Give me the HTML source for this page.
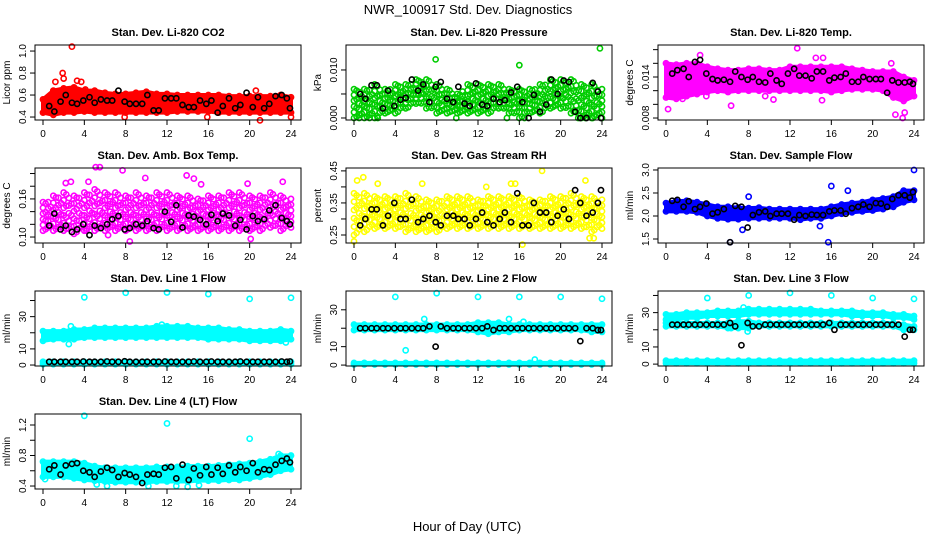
<!DOCTYPE html>
<html><head><meta charset="utf-8">
<style>
html,body{margin:0;padding:0;background:#fff;}
svg{display:block;font-family:"Liberation Sans",Arial,sans-serif;}
</style></head>
<body>
<svg id="chart" width="936" height="540" viewBox="0 0 936 540" xmlns="http://www.w3.org/2000/svg">
<text x="468" y="14" text-anchor="middle" font-size="13">NWR_100917  Std. Dev. Diagnostics</text>
<text x="467" y="531" text-anchor="middle" font-size="13">Hour of Day (UTC)</text>
</svg>
<script>
// shared hour categories
const hours=[0,1,2,3,4,5,6,7,8,9,10,11,12,13,14,15,16,17,18,19,20,21,22,23,24];
const blackHours=[0.6,1.1,1.7,2.2,2.8,3.3,3.9,4.5,5.0,5.6,6.2,6.7,7.3,7.9,8.4,9.0,9.6,10.1,10.7,11.2,11.8,12.4,12.9,13.5,14.1,14.6,15.2,15.8,16.3,16.9,17.4,18.0,18.6,19.1,19.7,20.3,20.8,21.4,21.9,22.5,23.1,23.6,23.9];
const xTicks=[0,4,8,12,16,20,24];

// CO2
const co2Lo=[0.44,0.42,0.44,0.44,0.45,0.44,0.44,0.44,0.44,0.44,0.44,0.44,0.44,0.45,0.45,0.45,0.45,0.44,0.44,0.44,0.44,0.44,0.44,0.44,0.44];
const co2Hi=[0.56,0.64,0.66,0.67,0.64,0.64,0.62,0.61,0.61,0.62,0.63,0.61,0.61,0.60,0.60,0.60,0.60,0.60,0.59,0.59,0.59,0.59,0.59,0.60,0.58];
const co2OutT=[1.2,1.9,2.0,2.8,3.3,3.7,4.1,7.9,15.9,20.6,21.0,24.0];
const co2OutV=[0.72,0.80,0.75,1.04,0.73,0.72,0.65,0.40,0.40,0.64,0.37,0.40];
const co2Black=[0.50,0.45,0.54,0.60,0.53,0.52,0.55,0.58,0.53,0.56,0.55,0.55,0.64,0.54,0.52,0.52,0.52,0.60,0.46,0.46,0.57,0.57,0.57,0.51,0.49,0.49,0.55,0.52,0.55,0.44,0.50,0.57,0.48,0.51,0.62,0.49,0.58,0.48,0.52,0.59,0.60,0.57,0.48];
const co2Ticks=[0.4,0.6,0.8,1.0];
const co2Labels=["0.4","0.6","0.8","1.0"];

// Pressure
const presLo=[0.000,0.000,0.000,0.001,0.001,0.002,0.003,0.002,0.001,0.001,0.001,0.001,0.001,0.001,0.002,0.001,0.000,0.001,0.001,0.002,0.002,0.001,0.000,0.000,0.000];
const presHi=[0.006,0.006,0.007,0.006,0.007,0.007,0.008,0.008,0.007,0.006,0.005,0.007,0.007,0.007,0.007,0.006,0.006,0.006,0.007,0.008,0.008,0.008,0.007,0.007,0.006];
const presOutT=[7.9,16.0,23.8,9.9,1.5,2.3,0.5,14.8,16.5,21.7,22.4,23.1];
const presOutV=[0.0122,0.0110,0.0145,0,0,0,0,0,0,0,0,0];
const presBlack=[0.005,0.004,0.0068,0.0068,0.002,0.0057,0.0025,0.0038,0.0042,0.0080,0.0057,0.0070,0.0033,0.0065,0.0075,0.0040,0.0033,0.0065,0.0030,0.0025,0.0072,0.0028,0.0025,0.0040,0.0033,0.0037,0.0053,0.0065,0.0033,0.0000,0.0048,0.0013,0.0028,0.0080,0.0050,0.0078,0.0075,0.0013,0.0000,0.0000,0.0073,0.0055,0.0000];
const presTicks=[0,0.005,0.010];
const presLabels=["0.000","","0.010"];

// Li-820 Temp
const tempLo=[0.0110,0.0108,0.0112,0.0115,0.0118,0.0120,0.0118,0.0120,0.0120,0.0120,0.0120,0.0120,0.0120,0.0120,0.0120,0.0120,0.0118,0.0120,0.0122,0.0122,0.0122,0.0120,0.0110,0.0105,0.0112];
const tempHi=[0.0160,0.0158,0.0160,0.0160,0.0155,0.0152,0.0150,0.0150,0.0152,0.0152,0.0150,0.0150,0.0155,0.0155,0.0155,0.0155,0.0155,0.0155,0.0152,0.0150,0.0148,0.0148,0.0148,0.0140,0.0135];
const tempOutT=[0.2,6.3,3.3,12.7,14.5,15.2,21.8,22.2,22.9,23.1,9.6,10.4,1.6,3.9,15.1];
const tempOutV=[0.0093,0.0098,0.0172,0.0182,0.0168,0.0168,0.0160,0.0085,0.0080,0.0088,0.0112,0.0107,0.0108,0.0112,0.0106];
const tempBlack=[0.0145,0.0150,0.0152,0.0140,0.0162,0.0165,0.0145,0.0137,0.0135,0.0136,0.0133,0.0148,0.0140,0.0136,0.0140,0.0133,0.0132,0.0145,0.0135,0.0130,0.0145,0.0152,0.0142,0.0142,0.0138,0.0148,0.0148,0.0135,0.0139,0.0140,0.0145,0.0133,0.0133,0.0140,0.0137,0.0137,0.0137,0.0117,0.0135,0.0132,0.0132,0.0133,0.0130];
const tempTicks=[0.008,0.010,0.012,0.014,0.016,0.018];
const tempLabels=["0.008","","","0.014","",""];

// Amb box temp
const ambLo=[0.11,0.11,0.11,0.105,0.11,0.11,0.11,0.11,0.11,0.11,0.11,0.11,0.11,0.11,0.11,0.11,0.11,0.11,0.11,0.11,0.11,0.11,0.115,0.11,0.115];
const ambHi=[0.155,0.165,0.17,0.165,0.17,0.175,0.17,0.17,0.165,0.17,0.165,0.17,0.17,0.165,0.165,0.16,0.165,0.165,0.17,0.17,0.165,0.165,0.17,0.165,0.16];
const ambOutT=[2.2,2.7,4.4,5.1,5.5,7.7,9.9,13.9,14.6,15.3,19.8,23.2,6.3,8.4,20.1,4.2];
const ambOutV=[0.185,0.187,0.187,0.21,0.21,0.205,0.193,0.197,0.192,0.183,0.184,0.187,0.103,0.093,0.097,0.110];
const ambBlack=[0.118,0.137,0.112,0.118,0.108,0.112,0.120,0.103,0.118,0.114,0.120,0.128,0.133,0.112,0.114,0.120,0.118,0.125,0.114,0.112,0.140,0.124,0.150,0.115,0.134,0.132,0.127,0.120,0.135,0.125,0.137,0.134,0.118,0.127,0.112,0.133,0.125,0.128,0.142,0.150,0.130,0.125,0.120];
const ambTicks=[0.10,0.12,0.14,0.16,0.18,0.20];
const ambLabels=["0.10","","","0.16","",""];

// Gas stream RH
const rhLo=[0.25,0.26,0.27,0.27,0.27,0.26,0.26,0.26,0.26,0.27,0.27,0.27,0.27,0.27,0.27,0.27,0.27,0.27,0.27,0.27,0.27,0.27,0.27,0.26,0.27];
const rhHi=[0.38,0.38,0.37,0.37,0.37,0.38,0.37,0.36,0.36,0.37,0.37,0.37,0.36,0.37,0.37,0.37,0.37,0.36,0.36,0.37,0.37,0.38,0.37,0.37,0.36];
const rhOutT=[0.3,0.9,2.3,6.6,12.8,15.2,15.6,18.2,22.4,0.0,16.3,22.8,23.2];
const rhOutV=[0.42,0.43,0.41,0.41,0.40,0.41,0.41,0.45,0.42,0.23,0.22,0.24,0.24];
const rhBlack=[0.28,0.30,0.33,0.33,0.28,0.31,0.35,0.30,0.30,0.36,0.29,0.30,0.31,0.29,0.28,0.31,0.31,0.30,0.30,0.28,0.30,0.32,0.29,0.28,0.30,0.32,0.29,0.38,0.28,0.28,0.35,0.32,0.32,0.29,0.31,0.33,0.30,0.39,0.35,0.31,0.32,0.35,0.39];
const rhTicks=[0.25,0.30,0.35,0.40,0.45];
const rhLabels=["0.25","","0.35","","0.45"];

// Sample flow
const sfLo=[2.10,2.10,2.10,2.08,2.00,1.95,1.93,1.93,1.95,1.95,1.95,1.95,1.95,1.92,1.95,1.95,2.00,2.05,2.08,2.10,2.12,2.15,2.20,2.30,2.35];
const sfHi=[2.28,2.32,2.33,2.30,2.25,2.20,2.20,2.18,2.17,2.18,2.15,2.15,2.15,2.15,2.15,2.15,2.20,2.25,2.28,2.30,2.35,2.38,2.42,2.55,2.55];
const sfOutT=[6.2,15.7,24.0,16.0,17.6,8.0,7.4,14.9];
const sfOutV=[1.43,1.43,3.0,2.65,2.55,2.42,1.70,1.78];
const sfBlack=[2.33,2.35,2.20,2.32,2.15,2.20,2.27,2.05,2.08,2.15,1.43,2.22,2.20,1.75,2.02,2.08,2.10,2.00,2.05,2.05,2.05,1.92,2.02,2.00,2.03,2.02,2.02,2.10,2.12,2.12,2.05,2.17,2.20,2.25,2.20,2.28,2.27,2.20,2.37,2.45,2.45,2.40,2.52];
const sfTicks=[1.5,2.0,2.5,3.0];
const sfLabels=["1.5","2.0","2.5","3.0"];

// Line 1 flow
const l1Lo=[15,16,16,16,17,17,17,17,17,17,17,17,17,17,17,17,16,16,16,16,15,15,15,15,16];
const l1Hi=[21,21,21,22,22,23,23,23,23,23,23,24,24,24,24,23,23,23,22,22,21,21,21,22,21];
const l1Lo2=[0.5,0.5,0.5,0.5,0.5,0.5,0.5,0.5,0.5,0.5,0.5,0.5,0.5,0.5,0.5,0.5,0.5,0.5,0.5,0.5,0.5,0.5,0.5,0.5,0.5];
const l1Hi2=[2,2,2,2,2,2,2,2,2,2,2,2,2,2,2,2,2,2,2,2,2,2,2,2,2];
const l1OutT=[4,8,12,16,20,24,2.5,2.7,11.5,23.5];
const l1OutV=[42,44.8,45,44,41,41.7,13,24,25,14];
const l1Black=[2,2,2,2,2,2,2.2,2,2,2,2.2,2,2,2.3,2,2,2,2,2,2,2.2,2,2,2,2,2.2,2,2,2.2,2,2,2,2,2.2,2,2,2,2,2,2,2.2,2,2.2];
const l1Ticks=[0,10,20,30,40];
const l1Labels=["0","10","","30",""];

// Line 2 flow
const l2Lo=[19,19,19,19,19,19,19,19,19,19,19,19,18,17,18,18,19,19,19,19,19,19,19,18,18];
const l2Hi=[22,22,22,22,22,22,22,22,22,22,22,22,23,23,23,22,22,22,22,22,22,22,22,22,22];
const l2Lo2=[0.3,0.3,0.3,0.3,0.3,0.3,0.3,0.3,0.3,0.3,0.3,0.3,0.3,0.3,0.3,0.3,0.3,0.3,0.3,0.3,0.3,0.3,0.3,0.3,0.3];
const l2Hi2=[1.2,1.2,1.2,1.2,1.2,1.2,1.2,1.2,1.2,1.2,1.2,1.2,1.2,1.2,1.2,1.2,1.2,1.2,1.2,1.2,1.2,1.2,1.2,1.2,1.2];
const l2OutT=[4,8,12,16,20,24,6.8,15,5,17.5,16.4];
const l2OutV=[37,39,37,37,37,36,25,25,8,3,23.5];
const l2Black=[20,20,20,20,20,20,20,20,20,20,20,20,21,10,21,20,20,20,20,20,20,20,21,19,20,20,20,20,20,20,20,20,20,20,20,20,20,20,13,20,20,19,19];
const l2Ticks=[0,10,20,30];
const l2Labels=["0","10","","30"];

// Line 3 flow
const l3Lo=[26,26,27,27,28,28,28,28,29,29,29,29,29,29,29,29,29,29,28,28,28,28,27,27,26];
const l3Hi=[29,29,30,30,30,31,31,31,32,32,32,32,32,32,32,31,31,31,31,30,30,30,29,29,28];
const l3MidLo=[22,22,22,22,22,22,21,21,21,22,22,22,22,22,22,22,22,22,22,22,22,22,22,20,20];
const l3MidHi=[24,24,24,24,24,24,24,25,25,24,24,24,24,24,24,24,24,24,24,24,24,24,24,23,22];
const l3Lo2=[0.5,0.5,0.5,0.5,0.5,0.5,0.5,0.5,0.5,0.5,0.5,0.5,0.5,0.5,0.5,0.5,0.5,0.5,0.5,0.5,0.5,0.5,0.5,0.5,0.5];
const l3Hi2=[2,2,2,2,2,2,2,2,2,2,2,2,2,2,2,2,2,2,2,2,2,2,2,2,2];
const l3OutT=[4,8,12,16,20,24,7.5,6.3,7.9];
const l3OutV=[38.5,40,41.5,40,38.5,38,33,21,19];
const l3Black=[23,23,23,23,23,23,23,23,23,23,24,22,11,24,22,22,23,23,23,23,23,23,23,23,23,23,23,24,20,23,23,23,23,23,23,23,23,23,23,23,16,20,20];
const l3Ticks=[0,10,20,30,40];
const l3Labels=["0","10","","30",""];

// Line 4 flow
const l4Lo=[0.52,0.52,0.52,0.50,0.48,0.47,0.46,0.45,0.45,0.45,0.45,0.46,0.46,0.46,0.46,0.47,0.47,0.47,0.48,0.48,0.50,0.52,0.55,0.60,0.62];
const l4Hi=[0.72,0.72,0.72,0.72,0.70,0.66,0.64,0.64,0.64,0.64,0.64,0.65,0.65,0.65,0.66,0.66,0.66,0.67,0.68,0.69,0.70,0.72,0.75,0.80,0.80];
const l4OutT=[4,12,20,5.2,6.2,10.2,12.9,14,15.1,0.2,22.8];
const l4OutV=[1.32,1.22,1.02,0.42,0.40,0.40,0.40,0.39,0.41,0.49,0.82];
const l4Black=[0.62,0.67,0.55,0.67,0.69,0.70,0.60,0.58,0.52,0.59,0.64,0.61,0.52,0.57,0.55,0.52,0.44,0.55,0.56,0.55,0.64,0.65,0.50,0.68,0.48,0.63,0.54,0.65,0.55,0.64,0.56,0.67,0.58,0.65,0.60,0.70,0.58,0.62,0.61,0.68,0.73,0.76,0.71];
const l4Ticks=[0.4,0.6,0.8,1.0,1.2];
const l4Labels=["0.4","","0.8","","1.2"];

const NS="http://www.w3.org/2000/svg";
const svg=document.getElementById('chart');
function mk(tag,attrs,parent){const e=document.createElementNS(NS,tag);for(const k in attrs)e.setAttribute(k,attrs[k]);(parent||svg).appendChild(e);return e;}

function drawPanel(p){
  const colX=[35,346,658], x0=colX[p.col], w=266, y0=45+123*p.row, h=75;
  const g=mk('g',{});
  
  
  const sx=v=>x0+8+v*248/24;
  const sy=v=>y0+h-(v-p.ymin)/(p.ymax-p.ymin)*h;
  const t=mk('text',{x:x0+w/2,y:y0-9,'text-anchor':'middle','font-size':'11','font-weight':'bold'},g);
  t.textContent=p.title;
  
  
  function pt(x,y,col){
    const c=mk('circle',{cx:x,cy:y,r:2.6,fill:'none',stroke:col,'stroke-width':1.6},g);
    
    
  }
  p.bands.forEach(b=>{
    if(!p.sparse){
      let pts=[];
      hours.forEach((hh,i)=>pts.push(sx(hh)+','+sy(b[0][i])));
      for(let i=hours.length-1;i>=0;i--)pts.push(sx(hours[i])+','+sy(b[1][i]));
      const poly=mk('polygon',{points:pts.join(' '),fill:p.color,stroke:p.color,'stroke-width':'4','stroke-linejoin':'round'},g);
      
      
      hours.forEach((hh,i)=>{pt(sx(hh),sy(b[0][i]),p.color);pt(sx(hh),sy(b[1][i]),p.color);});
    } else {
      const fA=[0,0.2,0.4,0.6,0.8,1], fB=[0.1,0.3,0.5,0.7,0.9];
      const fC=[0.05,0.35,0.65,0.95], fD=[0.15,0.45,0.75];
      hours.forEach((hh,i)=>{
        const lo=b[0][i], hi=b[1][i];
        fA.forEach(f=>pt(sx(hh),sy(lo+(hi-lo)*f),p.color));
        if(i<hours.length-1){
          const lo2=(lo+b[0][i+1])/2, hi2=(hi+b[1][i+1])/2;
          fB.forEach(f=>pt(sx(hh+0.5),sy(lo2+(hi2-lo2)*f),p.color));
          fC.forEach(f=>pt(sx(hh+0.25),sy(lo+(hi-lo)*f),p.color));
          fD.forEach(f=>pt(sx(hh+0.75),sy(lo2+(hi2-lo2)*f),p.color));
        }
      });
    }
  });
  p.outT.forEach((tt,i)=>{
    const c=mk('circle',{cx:sx(tt),cy:sy(p.outV[i]),r:2.6,fill:'none',stroke:p.color,'stroke-width':1.6},g);
    
    
  });
  p.black.forEach((v,i)=>{
    const c=mk('circle',{cx:sx(blackHours[i]),cy:sy(v),r:2.6,fill:'none',stroke:'#000','stroke-width':1.6},g);
    
    
  });
  const box=mk('rect',{x:x0,y:y0,width:w,height:h,fill:'none',stroke:'#000','stroke-width':1},g);
  
  
  xTicks.forEach(v=>{
    mk('line',{x1:sx(v),x2:sx(v),y1:y0+h,y2:y0+h+5,stroke:'#000'},g);
    const l=mk('text',{x:sx(v),y:y0+h+17,'text-anchor':'middle','font-size':'10'},g);
    l.textContent=v;
    
    
  });
  p.ticks.forEach((v,i)=>{
    const yy=sy(v);
    mk('line',{x1:x0-5,x2:x0,y1:yy,y2:yy,stroke:'#000'},g);
    if(p.labels[i]){
      const l=mk('text',{x:x0-9,y:yy,'text-anchor':'middle','font-size':'10',transform:'rotate(-90 '+(x0-9)+' '+yy+')'},g);
      l.textContent=p.labels[i];
      
      
    }
  });
  const yc=y0+h/2;
  const yl=mk('text',{x:x0-25,y:yc,'text-anchor':'middle','font-size':'10',transform:'rotate(-90 '+(x0-25)+' '+yc+')'},g);
  yl.textContent=p.ylab;
  
  
}

drawPanel({name:'co2',title:'Stan. Dev. Li-820 CO2',ylab:'Licor ppm',col:0,row:0,ymin:0.373,ymax:1.055,color:'#ff0000',bands:[[co2Lo,co2Hi]],outT:co2OutT,outV:co2OutV,black:co2Black,ticks:co2Ticks,labels:co2Labels});
drawPanel({name:'pressure',title:'Stan. Dev. Li-820 Pressure',ylab:'kPa',col:1,row:0,ymin:-0.00042,ymax:0.0152,color:'#00cd00',sparse:true,bands:[[presLo,presHi]],outT:presOutT,outV:presOutV,black:presBlack,ticks:presTicks,labels:presLabels});
drawPanel({name:'li820-temp',title:'Stan. Dev. Li-820 Temp.',ylab:'degrees C',col:2,row:0,ymin:0.00771,ymax:0.01868,color:'#ff00ff',bands:[[tempLo,tempHi]],outT:tempOutT,outV:tempOutV,black:tempBlack,ticks:tempTicks,labels:tempLabels});
drawPanel({name:'amb-box-temp',title:'Stan. Dev. Amb. Box Temp.',ylab:'degrees C',col:0,row:1,ymin:0.0906,ymax:0.2087,color:'#ff00ff',sparse:true,bands:[[ambLo,ambHi]],outT:ambOutT,outV:ambOutV,black:ambBlack,ticks:ambTicks,labels:ambLabels});
drawPanel({name:'gas-rh',title:'Stan. Dev. Gas Stream RH',ylab:'percent',col:1,row:1,ymin:0.225,ymax:0.459,color:'#ffff00',sparse:true,bands:[[rhLo,rhHi]],outT:rhOutT,outV:rhOutV,black:rhBlack,ticks:rhTicks,labels:rhLabels});
drawPanel({name:'sample-flow',title:'Stan. Dev. Sample Flow',ylab:'ml/min',col:2,row:1,ymin:1.413,ymax:3.043,color:'#0000ff',bands:[[sfLo,sfHi]],outT:sfOutT,outV:sfOutV,black:sfBlack,ticks:sfTicks,labels:sfLabels});
drawPanel({name:'line1-flow',title:'Stan. Dev. Line 1 Flow',ylab:'ml/min',col:0,row:2,ymin:-0.6,ymax:45.9,color:'#00ffff',bands:[[l1Lo,l1Hi],[l1Lo2,l1Hi2]],outT:l1OutT,outV:l1OutV,black:l1Black,ticks:l1Ticks,labels:l1Labels});
drawPanel({name:'line2-flow',title:'Stan. Dev. Line 2 Flow',ylab:'ml/min',col:1,row:2,ymin:-0.5,ymax:40.2,color:'#00ffff',bands:[[l2Lo,l2Hi],[l2Lo2,l2Hi2]],outT:l2OutT,outV:l2OutV,black:l2Black,ticks:l2Ticks,labels:l2Labels});
drawPanel({name:'line3-flow',title:'Stan. Dev. Line 3 Flow',ylab:'ml/min',col:2,row:2,ymin:-1.1,ymax:42.6,color:'#00ffff',bands:[[l3Lo,l3Hi],[l3MidLo,l3MidHi],[l3Lo2,l3Hi2]],outT:l3OutT,outV:l3OutV,black:l3Black,ticks:l3Ticks,labels:l3Labels});
drawPanel({name:'line4-flow',title:'Stan. Dev. Line 4 (LT) Flow',ylab:'ml/min',col:0,row:3,ymin:0.361,ymax:1.344,color:'#00ffff',bands:[[l4Lo,l4Hi]],outT:l4OutT,outV:l4OutV,black:l4Black,ticks:l4Ticks,labels:l4Labels});
</script>
</body></html>
